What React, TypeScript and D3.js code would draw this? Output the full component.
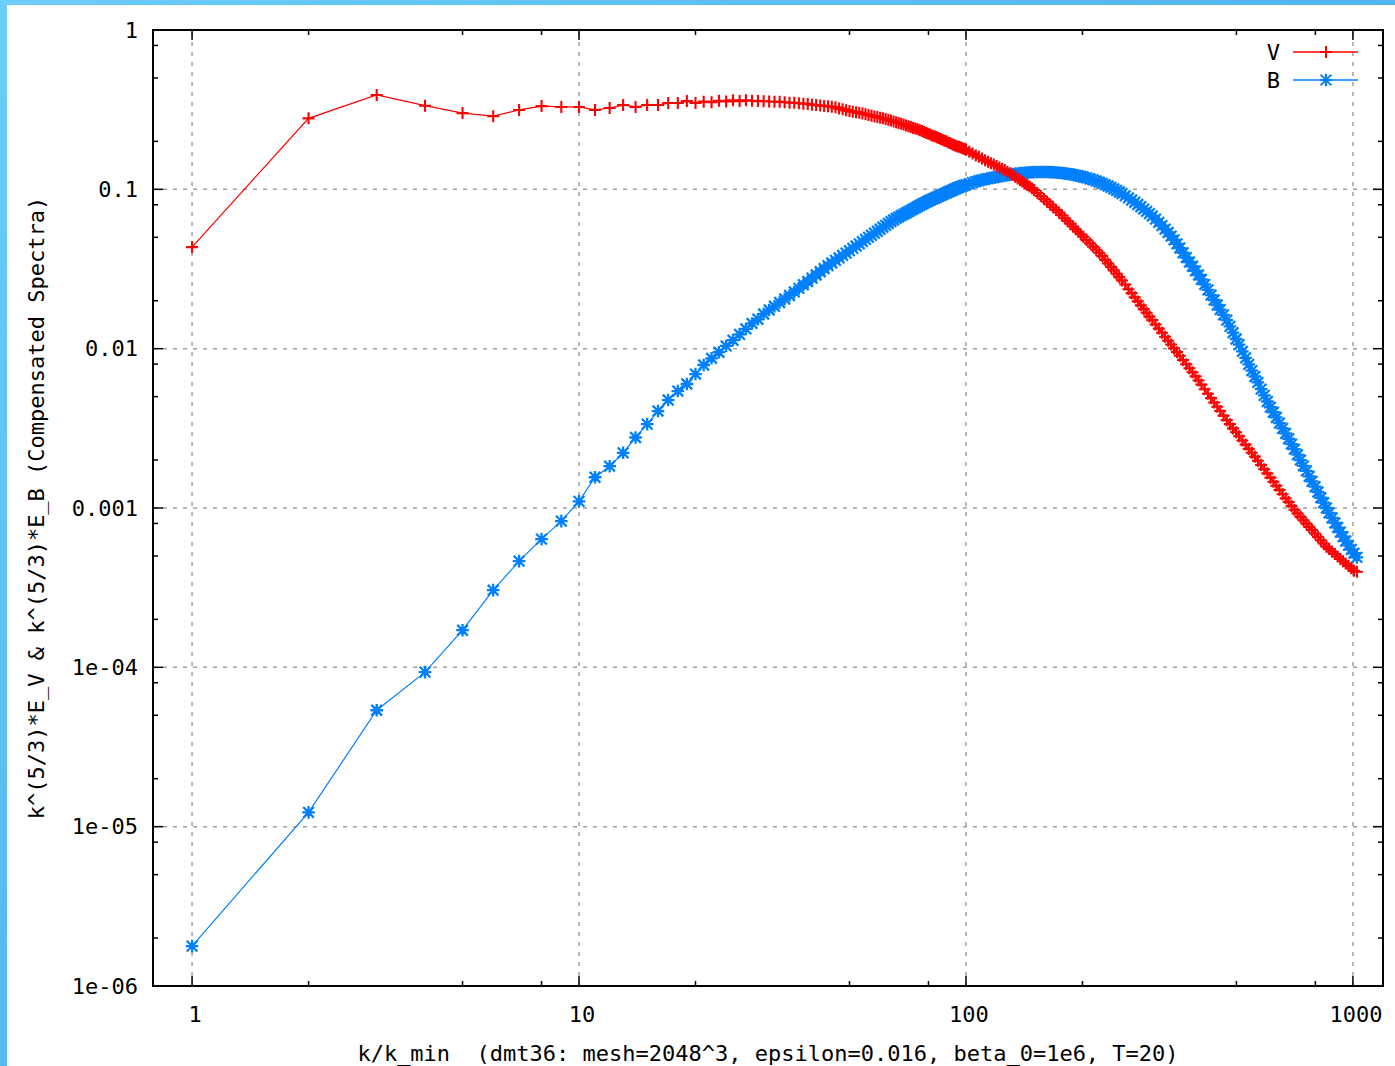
import React from 'react';
import * as d3 from 'd3';

// Wavenumbers (k/k_min) at which both spectra are sampled
const K = [
  1, 2, 3, 4, 5, 6, 7, 8, 9, 10,
  11, 12, 13, 14, 15, 16, 17, 18, 19, 20,
  21, 22, 23, 24, 25, 26, 27, 28, 29, 30,
  31, 32, 33, 34, 35, 36, 37, 38, 39, 40,
  41, 42, 43, 44, 45, 46, 47, 48, 49, 50,
  51, 52, 53, 54, 55, 56, 57, 58, 59, 60,
  61, 62, 63, 64, 65, 66, 67, 68, 69, 70,
  71, 72, 73, 74, 75, 76, 77, 78, 79, 80,
  81, 82, 83, 84, 85, 86, 87, 88, 89, 90,
  91, 92, 93, 94, 95, 96, 97, 98, 99, 100,
  102, 104, 106, 108, 110, 112, 114, 116, 118, 120, 122, 124, 126,
  128, 130, 132, 134, 136, 138, 140, 142, 144, 146, 148, 150,
  153, 156, 159, 162, 165, 168, 171, 174, 177, 180, 183, 186, 189, 192, 195, 198, 201,
  205, 209, 213, 217, 221, 225, 229, 233, 237, 241, 245, 249, 253,
  258, 263, 268, 273, 278, 283, 288, 293, 298, 303,
  309, 315, 321, 327, 333, 339, 345, 351, 357,
  364, 371, 378, 385, 392, 399, 406,
  414, 422, 430, 438, 446, 454,
  463, 472, 481, 490, 499, 508,
  518, 528, 538, 548, 558, 568,
  579, 590, 601, 612, 623, 634,
  646, 658, 670, 682, 694, 706,
  719, 732, 745, 758, 771, 784,
  798, 812, 826, 840, 854, 868,
  883, 898, 913, 928, 943, 958,
  974, 990, 1006, 1024,
];

// Compensated kinetic spectrum k^(5/3) E_V
const V = [
  0.0434, 0.279, 0.391, 0.335, 0.301, 0.288, 0.315, 0.333, 0.329, 0.329,
  0.315, 0.324, 0.338, 0.329, 0.338, 0.338, 0.348, 0.348, 0.358, 0.348,
  0.355, 0.352, 0.36, 0.356, 0.362, 0.358, 0.362, 0.36, 0.358, 0.357,
  0.356, 0.355, 0.354, 0.352, 0.35, 0.349, 0.347, 0.345, 0.343, 0.34,
  0.338, 0.336, 0.334, 0.332, 0.33, 0.327, 0.322, 0.318, 0.314, 0.31,
  0.307, 0.305, 0.302, 0.299, 0.296, 0.293, 0.29, 0.287, 0.284, 0.281,
  0.279, 0.276, 0.273, 0.27, 0.267, 0.264, 0.261, 0.258, 0.255, 0.252,
  0.249, 0.246, 0.243, 0.241, 0.238, 0.235, 0.232, 0.229, 0.226, 0.223,
  0.22, 0.217, 0.215, 0.212, 0.21, 0.207, 0.205, 0.202, 0.2, 0.197,
  0.195, 0.192, 0.19, 0.188, 0.186, 0.185, 0.183, 0.181, 0.179, 0.177,
  0.172, 0.168, 0.163, 0.16, 0.156, 0.152, 0.149, 0.146, 0.143, 0.14, 0.137, 0.1345, 0.132,
  0.129, 0.126, 0.123, 0.12, 0.117, 0.114, 0.1115, 0.109, 0.1065, 0.104, 0.1015, 0.099,
  0.0948, 0.0909, 0.0871, 0.0837, 0.0804, 0.0772, 0.0743, 0.0716, 0.0687, 0.0659, 0.0633, 0.0609, 0.0585, 0.0563, 0.0542, 0.0522, 0.0504,
  0.048, 0.0458, 0.0437, 0.0418, 0.04, 0.0381, 0.0361, 0.0343, 0.0326, 0.031, 0.0295, 0.0281, 0.0268,
  0.0253, 0.0236, 0.0223, 0.021, 0.0198, 0.0187, 0.0177, 0.0168, 0.0159, 0.0151,
  0.01419, 0.01336, 0.01259, 0.01188, 0.01122, 0.01061, 0.01004, 0.00951, 0.00902,
  0.00849, 0.00799, 0.00754, 0.00711, 0.0067, 0.00631, 0.00595,
  0.00556, 0.00521, 0.00489, 0.00459, 0.00432, 0.00406,
  0.0038, 0.00356, 0.00336, 0.00316, 0.00299, 0.00282,
  0.00265, 0.0025, 0.00235, 0.00222, 0.0021, 0.00198,
  0.00186, 0.00175, 0.00165, 0.00155, 0.00146, 0.00138,
  0.0013, 0.00122, 0.00115, 0.00109, 0.00103, 0.000974,
  0.000925, 0.00088, 0.000838, 0.000798, 0.000761, 0.000727,
  0.000692, 0.000659, 0.000628, 0.000599, 0.000572, 0.000552,
  0.000532, 0.000514, 0.000496, 0.000479, 0.000463, 0.000448,
  0.000433, 0.000418, 0.000404, 0.000398,
];

// Compensated magnetic spectrum k^(5/3) E_B
const B = [
  1.78e-6, 1.23e-5, 5.38e-5, 9.33e-5, 1.71e-4, 3.05e-4, 4.64e-4, 6.38e-4, 8.27e-4, 1.1e-3,
  1.56e-3, 1.83e-3, 2.22e-3, 2.77e-3, 3.36e-3, 4.06e-3, 4.76e-3, 5.42e-3, 6.0e-3, 6.93e-3,
  7.9e-3, 8.7e-3, 9.5e-3, 0.0104, 0.0113, 0.0123, 0.0133, 0.0144, 0.0153, 0.0165,
  0.01748, 0.01847, 0.01949, 0.02051, 0.02157, 0.0227, 0.0239, 0.0252, 0.0264, 0.0277,
  0.029, 0.0304, 0.0318, 0.0332, 0.0345, 0.0358, 0.0371, 0.0385, 0.0398, 0.0412,
  0.0426, 0.0441, 0.0455, 0.047, 0.0485, 0.05, 0.0515, 0.0531, 0.0546, 0.0562,
  0.0578, 0.0594, 0.061, 0.0627, 0.0642, 0.0657, 0.067, 0.0684, 0.0697, 0.071,
  0.0724, 0.0738, 0.0752, 0.0765, 0.0779, 0.0793, 0.0806, 0.082, 0.0832, 0.0845,
  0.0857, 0.0869, 0.088, 0.0892, 0.0904, 0.0915, 0.0927, 0.0939, 0.095, 0.0962,
  0.0974, 0.0985, 0.0997, 0.1009, 0.102, 0.1032, 0.1041, 0.105, 0.1059, 0.1068,
  0.1085, 0.1102, 0.1119, 0.1133, 0.1146, 0.1157, 0.1167, 0.1177, 0.1186, 0.1196, 0.1205, 0.1214, 0.1222,
  0.1231, 0.1239, 0.1245, 0.125, 0.1256, 0.1262, 0.1267, 0.1271, 0.1274, 0.1276, 0.1279, 0.1282,
  0.1284, 0.1285, 0.1285, 0.1284, 0.1282, 0.1279, 0.1275, 0.127, 0.1265, 0.1259, 0.1252, 0.1244, 0.1236, 0.1227, 0.1217, 0.1206, 0.1195,
  0.118, 0.1165, 0.1148, 0.1129, 0.1109, 0.109, 0.1071, 0.105, 0.1029, 0.1007, 0.0985, 0.0962, 0.094,
  0.0912, 0.0883, 0.0857, 0.083, 0.0803, 0.0777, 0.0752, 0.0728, 0.0704, 0.0681,
  0.065, 0.0621, 0.0592, 0.0563, 0.0536, 0.0509, 0.0482, 0.0455, 0.0428,
  0.04, 0.0373, 0.035, 0.0329, 0.0308, 0.029, 0.0272,
  0.0253, 0.0234, 0.0217, 0.0202, 0.0188, 0.0176,
  0.0163, 0.0151, 0.0138, 0.0126, 0.0115, 0.0106,
  0.00962, 0.00875, 0.00797, 0.00728, 0.00669, 0.00614,
  0.00557, 0.00509, 0.00466, 0.00429, 0.00399, 0.0037,
  0.00341, 0.00316, 0.00294, 0.00272, 0.00252, 0.00234,
  0.00216, 0.002, 0.00184, 0.00171, 0.00158, 0.00147,
  0.00136, 0.00126, 0.00116, 0.00108, 0.001, 0.000932,
  0.000866, 0.000806, 0.000754, 0.000706, 0.000661, 0.000621,
  0.000582, 0.000549, 0.00052, 0.00049,
];

const SERIES_NAMES = ['V', 'B'];
const X_TICKS = [1, 10, 100, 1000];
const X_TICK_LABELS = ['1', '10', '100', '1000'];
const Y_TICKS = [1, 0.1, 0.01, 0.001, 1e-4, 1e-5, 1e-6];
const Y_TICK_LABELS = ['1', '0.1', '0.01', '0.001', '1e-04', '1e-05', '1e-06'];
const MINOR_MULTIPLIERS = [2, 5, 8];
const X_DOMAIN: [number, number] = [0.7926, 1196];
const Y_DOMAIN: [number, number] = [1e-6, 1];
const X_TITLE = 'k/k_min  (dmt36: mesh=2048^3, epsilon=0.016, beta_0=1e6, T=20)';
const Y_TITLE = 'k^(5/3)*E_V & k^(5/3)*E_B (Compensated Spectra)';

const RED = '#ff0000';
const BLUE = '#0080ff';
const FONT = '"DejaVu Sans Mono", "Liberation Mono", monospace';

const plusPath = (px: number, py: number, r: number) =>
  `M${px - r},${py}h${2 * r}M${px},${py - r}v${2 * r}`;
const starPath = (px: number, py: number, r: number) => {
  const d = r * 0.85;
  return plusPath(px, py, r) + `M${px - d},${py - d}l${2 * d},${2 * d}M${px - d},${py + d}l${2 * d},${-2 * d}`;
};

export default function App() {
  const W = 1395;
  const H = 1066;
  const L = 153, R = 1383, T = 30, Bt = 986;

  const x = d3.scaleLog().domain(X_DOMAIN).range([L, R]);
  const y = d3.scaleLog().domain(Y_DOMAIN).range([Bt, T]);

  const n = Math.min(K.length, V.length, B.length);
  const line = d3.line<[number, number]>().x(d => x(d[0])).y(d => y(d[1]));
  const vPts: [number, number][] = K.slice(0, n).map((k, i) => [k, V[i]]);
  const bPts: [number, number][] = K.slice(0, n).map((k, i) => [k, B[i]]);

  const vMarks = vPts.map(d => plusPath(x(d[0]), y(d[1]), 6)).join('');
  const bMarks = bPts.map(d => starPath(x(d[0]), y(d[1]), 6.3)).join('');

  // minor ticks at 2, 5, 8 within each decade
  const xMinor: number[] = [];
  for (let e = -1; e <= 3; e++) {
    for (const m of MINOR_MULTIPLIERS) {
      const v = m * Math.pow(10, e);
      if (v > X_DOMAIN[0] * 1.02 && v < X_DOMAIN[1]) xMinor.push(v);
    }
  }
  const yMinor: number[] = [];
  for (let e = -6; e <= -1; e++) {
    for (const m of MINOR_MULTIPLIERS) yMinor.push(m * Math.pow(10, e));
  }

  const major = 10;
  const minor = 5;
  const gridColor = '#a0a0a0';

  return (
    <svg
      width={W}
      height={H}
      style={{ position: 'absolute', left: 0, top: 0, display: 'block', background: '#fff' }}
    >
      <defs>
        <linearGradient id="topEdge" x1="0" x2="1" y1="0" y2="0">
          <stop offset="0" stopColor="#6ccdf8" />
          <stop offset="1" stopColor="#52b4ee" />
        </linearGradient>
        <linearGradient id="leftEdge" x1="0" x2="0" y1="0" y2="1">
          <stop offset="0" stopColor="#6ccdf8" />
          <stop offset="1" stopColor="#58b8f0" />
        </linearGradient>
      </defs>
      <rect x={0} y={0} width={W} height={H} fill="#fff" />
      <rect x={0} y={0} width={W} height={5} fill="url(#topEdge)" />
      <rect x={0} y={0} width={7} height={H} fill="url(#leftEdge)" />

      {/* grid at major decades */}
      <g stroke={gridColor} strokeWidth={1.5} strokeDasharray="4 6">
        {X_TICKS.map(t => (
          <line key={'gx' + t} x1={x(t)} x2={x(t)} y1={Bt} y2={T} />
        ))}
        {Y_TICKS.filter(t => t < 1 && t > 1e-6).map(t => (
          <line key={'gy' + t} x1={L} x2={R} y1={y(t)} y2={y(t)} />
        ))}
      </g>

      {/* spectra */}
      <g fill="none" strokeLinecap="butt">
        <path d={line(bPts) || ''} stroke={BLUE} strokeWidth={1.2} />
        <path d={bMarks} stroke={BLUE} strokeWidth={2.3} />
        <path d={line(vPts) || ''} stroke={RED} strokeWidth={1.2} />
        <path d={vMarks} stroke={RED} strokeWidth={2.1} />
      </g>

      {/* ticks on all four sides */}
      <g stroke="#000" strokeWidth={1.5}>
        {X_TICKS.map(t => (
          <g key={'tx' + t}>
            <line x1={x(t)} x2={x(t)} y1={Bt} y2={Bt - major} />
            <line x1={x(t)} x2={x(t)} y1={T} y2={T + major} />
          </g>
        ))}
        {xMinor.map(t => (
          <g key={'mx' + t}>
            <line x1={x(t)} x2={x(t)} y1={Bt} y2={Bt - minor} />
            <line x1={x(t)} x2={x(t)} y1={T} y2={T + minor} />
          </g>
        ))}
        {Y_TICKS.map(t => (
          <g key={'ty' + t}>
            <line x1={L} x2={L + major} y1={y(t)} y2={y(t)} />
            <line x1={R} x2={R - major} y1={y(t)} y2={y(t)} />
          </g>
        ))}
        {yMinor.map(t => (
          <g key={'my' + t}>
            <line x1={L} x2={L + minor} y1={y(t)} y2={y(t)} />
            <line x1={R} x2={R - minor} y1={y(t)} y2={y(t)} />
          </g>
        ))}
      </g>

      <rect x={L} y={T} width={R - L} height={Bt - T} fill="none" stroke="#000" strokeWidth={2} />

      {/* tick labels and axis titles */}
      <g fontFamily={FONT} fontSize={22} fill="#000">
        {Y_TICKS.map((t, i) => (
          <text key={'ly' + t} x={138} y={y(t)} dy="0.35em" textAnchor="end">
            {Y_TICK_LABELS[i]}
          </text>
        ))}
        {X_TICKS.map((t, i) => (
          <text key={'lx' + t} x={x(t) + 3} y={1022} textAnchor="middle">
            {X_TICK_LABELS[i]}
          </text>
        ))}
        <text x={(L + R) / 2} y={1061} textAnchor="middle" style={{ whiteSpace: 'pre' }}>
          {X_TITLE}
        </text>
        <text
          transform={`translate(44, ${(T + Bt) / 2}) rotate(-90)`}
          textAnchor="middle"
          style={{ whiteSpace: 'pre' }}
        >
          {Y_TITLE}
        </text>
      </g>

      {/* key */}
      <g fontFamily={FONT} fontSize={22}>
        {SERIES_NAMES.map((name, i) => {
          const ky = 52 + i * 28;
          const color = i === 0 ? RED : BLUE;
          const kx = 1326;
          return (
            <g key={name}>
              <text x={1280} y={ky} dy="0.35em" textAnchor="end" fill="#000">
                {name}
              </text>
              <line x1={1293} x2={1358} y1={ky} y2={ky} stroke={color} strokeWidth={1.5} />
              <path
                d={i === 0 ? plusPath(kx, ky, 6) : starPath(kx, ky, 6.3)}
                stroke={color}
                strokeWidth={2}
                fill="none"
              />
            </g>
          );
        })}
      </g>
    </svg>
  );
}
